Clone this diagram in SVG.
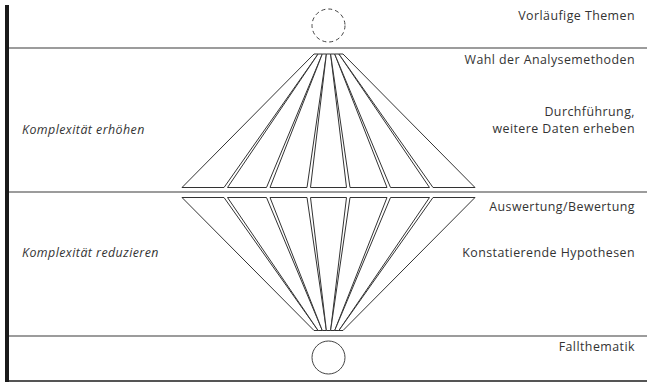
<svg xmlns="http://www.w3.org/2000/svg" width="647" height="382" viewBox="0 0 647 382">
  <style>
    .band { stroke: #9c9c9c; stroke-width: 2; fill: none; }
    .ray { fill: #ffffff; stroke: #333333; stroke-width: 1; stroke-linejoin: miter; }
    .lbl { font-family: "Open Sans", "Noto Sans", sans-serif; font-size: 12.4px; letter-spacing: 0.45px; fill: #333333; }
    .r { text-anchor: end; }
    .it { font-style: italic; }
    .node { fill: #ffffff; stroke: #444444; stroke-width: 1; }
  </style>
  <rect width="647" height="382" fill="#ffffff"/>

  <!-- band separators -->
  <g id="bands">
    <line class="band" x1="8" y1="48" x2="647" y2="48"/>
    <line class="band" x1="8" y1="192" x2="647" y2="192"/>
    <line class="band" x1="8" y1="336" x2="647" y2="336"/>
    <line x1="8" y1="381" x2="647" y2="381" stroke="#555555" stroke-width="2"/>
    <rect x="5" y="5" width="4" height="377" fill="#1a1a1a"/>
  </g>

  <!-- start and end nodes -->
  <g id="themen-node">
    <circle class="node" cx="328.5" cy="25.5" r="16.5" stroke-dasharray="4 3"/>
  </g>
  <g id="fall-node">
    <circle class="node" cx="328.5" cy="357.5" r="16.5"/>
  </g>

  <!-- widening fan: choice of methods, execution -->
  <g id="fan-erhoehen">
    <polygon class="ray" points="314,54 318.1,54 224,187.5 182,187.5"/>
    <polygon class="ray" points="318.1,54 322.3,54 266.5,187.5 227.5,187.5"/>
    <polygon class="ray" points="322.3,54 326.4,54 307,187.5 270,187.5"/>
    <polygon class="ray" points="326.4,54 330.6,54 346.5,187.5 310.5,187.5"/>
    <polygon class="ray" points="330.6,54 334.7,54 387,187.5 350,187.5"/>
    <polygon class="ray" points="334.7,54 338.9,54 429.5,187.5 390.5,187.5"/>
    <polygon class="ray" points="338.9,54 343,54 475,187.5 433,187.5"/>
  </g>

  <!-- narrowing fan: evaluation, hypotheses -->
  <g id="fan-reduzieren">
    <polygon class="ray" points="314,330.5 318.1,330.5 224,197.5 182,197.5"/>
    <polygon class="ray" points="318.1,330.5 322.3,330.5 266.5,197.5 227.5,197.5"/>
    <polygon class="ray" points="322.3,330.5 326.4,330.5 307,197.5 270,197.5"/>
    <polygon class="ray" points="326.4,330.5 330.6,330.5 346.5,197.5 310.5,197.5"/>
    <polygon class="ray" points="330.6,330.5 334.7,330.5 387,197.5 350,197.5"/>
    <polygon class="ray" points="334.7,330.5 338.9,330.5 429.5,197.5 390.5,197.5"/>
    <polygon class="ray" points="338.9,330.5 343,330.5 475,197.5 433,197.5"/>
  </g>

  <!-- labels -->
  <g id="labels">
    <text class="lbl it" x="22" y="134">Komplexität erhöhen</text>
    <text class="lbl it" x="22" y="257">Komplexität reduzieren</text>
    <text class="lbl r" x="635" y="20">Vorläufige Themen</text>
    <text class="lbl r" x="635" y="64">Wahl der Analysemethoden</text>
    <text class="lbl r" x="635" y="116">Durchführung,</text>
    <text class="lbl r" x="635" y="133">weitere Daten erheben</text>
    <text class="lbl r" x="635" y="211">Auswertung/Bewertung</text>
    <text class="lbl r" x="635" y="257">Konstatierende Hypothesen</text>
    <text class="lbl r" x="635" y="351">Fallthematik</text>
  </g>
</svg>
